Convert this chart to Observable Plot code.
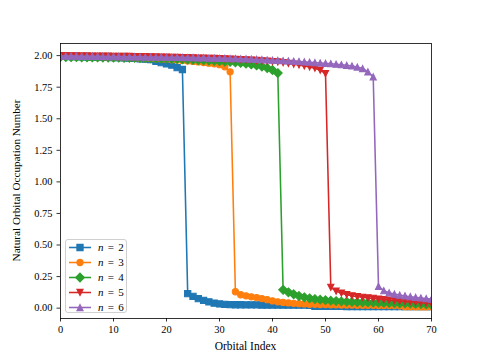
<!DOCTYPE html>
<html><head><meta charset="utf-8">
<script src="https://cdn.jsdelivr.net/npm/d3@7"></script>
<script src="https://cdn.jsdelivr.net/npm/@observablehq/plot@0.6"></script>
<style>
body{margin:0;background:#fff;}
#chart{position:relative;width:480px;height:360px;font-family:"Liberation Serif",serif;}
#legend{position:absolute;left:65px;top:239px;width:62px;height:74px;border:1px solid #d0d0d0;border-radius:3px;background:rgba(255,255,255,0.8);box-sizing:border-box;}
.lrow{position:absolute;left:0;height:15px;width:60px;}
.lrow svg{position:absolute;left:2px;top:0;}
.lrow span{position:absolute;left:32px;top:0;line-height:15px;font-size:11px;white-space:nowrap;word-spacing:1.5px;}
</style>
</head><body>
<div id="chart"></div>
<script>
// ---- data ----
const seriesLabels = ["2", "3", "4", "5", "6"];
const xTicks = [0, 10, 20, 30, 40, 50, 60, 70];
const yTicks = [0, 0.25, 0.5, 0.75, 1.0, 1.25, 1.5, 1.75, 2.0];

const n2 = [1.995,1.994,1.993,1.992,1.991,1.99,1.989,1.988,1.987,1.986,1.985,1.984,1.982,1.98,1.978,1.975,1.972,1.968,1.955,1.945,1.935,1.925,1.905,1.89,
  0.115,0.093,0.076,0.062,0.05,0.04,0.033,0.03,0.028,
  0.027,0.027,0.026,0.026,0.026,0.025,0.025,0.025,0.025,0.024,0.024,0.024,0.024,0.024,0.023,
  0.014,0.014,0.014,0.014,0.014,0.014,0.013,0.013,0.013,0.013,0.013,0.013,0.013,0.013,0.013,0.012,0.012,0.012,0.012,0.012,0.012,0.012,0.012];
const n3 = [1.996,1.995,1.994,1.993,1.992,1.991,1.99,1.989,1.988,1.987,1.986,1.985,1.984,1.983,1.982,1.98,1.979,1.977,1.975,1.973,1.971,1.968,1.965,1.962,1.958,1.954,1.95,1.945,1.94,1.935,1.928,1.912,1.872,
  0.13,0.106,0.098,0.09,0.084,0.076,0.067,0.057,0.05,0.045,0.041,0.038,0.035,0.033,0.031,0.03,0.029,0.028,0.027,0.026,0.025,0.025,0.024,0.023,0.023,0.022,0.022,0.021,0.021,0.02,0.02,0.019,0.012,0.011,0.011,0.01,0.01,0.01];
const n4 = [1.99,1.989,1.988,1.988,1.987,1.987,1.986,1.986,1.985,1.985,1.984,1.984,1.983,1.983,1.982,1.981,1.98,1.979,1.978,1.977,1.976,1.975,1.973,1.971,1.969,1.967,1.965,1.963,1.961,1.959,1.956,1.953,1.95,1.946,1.942,1.936,1.93,1.922,1.913,1.902,1.886,1.862,
  0.145,0.125,0.11,0.096,0.086,0.078,0.072,0.067,0.063,0.059,0.056,0.053,0.051,0.049,0.047,0.046,0.045,0.044,0.043,0.042,0.041,0.04,0.039,0.038,0.036,0.034,0.032,0.03,0.028];
const n5 = [1.999,1.999,1.998,1.998,1.997,1.997,1.996,1.996,1.995,1.995,1.994,1.994,1.993,1.993,1.992,1.992,1.991,1.99,1.989,1.988,1.987,1.986,1.985,1.984,1.983,1.982,1.981,1.98,1.979,1.978,1.977,1.975,1.973,1.971,1.969,1.967,1.965,1.962,1.959,1.956,1.953,1.95,1.944,1.938,1.932,1.926,1.918,1.91,1.9,1.885,1.858,
  0.165,0.135,0.118,0.107,0.098,0.091,0.086,0.081,0.077,0.072,0.068,0.064,0.06,0.056,0.053,0.05,0.047,0.044,0.041,0.038];
const n6 = [1.997,1.997,1.996,1.996,1.995,1.995,1.994,1.994,1.993,1.993,1.992,1.992,1.991,1.991,1.99,1.99,1.989,1.989,1.988,1.988,1.987,1.987,1.986,1.986,1.985,1.984,1.983,1.982,1.981,1.98,1.979,1.978,1.977,1.976,1.975,1.974,1.972,1.97,1.968,1.966,1.964,1.962,1.96,1.958,1.956,1.954,1.951,1.948,1.945,1.942,1.939,1.936,1.932,1.928,1.923,1.918,1.91,1.898,1.872,1.832,
  0.172,0.138,0.122,0.112,0.104,0.097,0.091,0.086,0.081,0.076,0.071];
const seriesValues = [n2, n3, n4, n5, n6];

// ---- styles ----
const colors = ["#1f77b4", "#ff7f0e", "#2ca02c", "#d62728", "#9467bd"];
const R = 3.125;
const S2 = Math.SQRT2;
function sym(kind) {
  return {draw(ctx, size) {
    const r = Math.sqrt(size / Math.PI);
    if (kind === "square") { ctx.rect(-r, -r, 2 * r, 2 * r); }
    else if (kind === "circle") { ctx.moveTo(r, 0); ctx.arc(0, 0, r, 0, 2 * Math.PI); }
    else if (kind === "diamond") { const d = r * S2; ctx.moveTo(0, -d); ctx.lineTo(d, 0); ctx.lineTo(0, d); ctx.lineTo(-d, 0); ctx.closePath(); }
    else if (kind === "tdown") { ctx.moveTo(0, r); ctx.lineTo(-r, -r); ctx.lineTo(r, -r); ctx.closePath(); }
    else { ctx.moveTo(0, -r); ctx.lineTo(-r, r); ctx.lineTo(r, r); ctx.closePath(); }
  }};
}
const kinds = ["square", "circle", "diamond", "tdown", "tup"];

const marks = [];
seriesValues.forEach((vals, k) => {
  const rows = vals.map((v, i) => ({idx: i, v}));
  marks.push(Plot.line(rows, {x: "idx", y: "v", stroke: colors[k], strokeWidth: 1.56, clip: true}));
  marks.push(Plot.dot(rows, {x: "idx", y: "v", symbol: sym(kinds[k]), r: R, fill: colors[k], stroke: colors[k], strokeWidth: 1.04, clip: true}));
});

const plot = Plot.plot({
  width: 480, height: 360,
  marginLeft: 60, marginRight: 49, marginTop: 43, marginBottom: 42,
  style: {fontFamily: "'Liberation Serif', serif", fontSize: "10.4px", background: "white", color: "black"},
  x: {domain: [0, 70]},
  y: {domain: [-0.082, 2.096]},
  marks: [
    ...marks,
    Plot.axisX({ticks: xTicks, tickSize: 3.5, tickPadding: 3.5, strokeWidth: 0.8, label: null}),
    Plot.axisY({ticks: yTicks, tickFormat: d3.format(".2f"), tickSize: 3.5, tickPadding: 4.5, strokeWidth: 0.8, label: null}),
    Plot.frame({stroke: "black", strokeWidth: 0.8})
  ]
});
const chart = document.getElementById("chart");
chart.appendChild(plot);

// axis titles
const svg = d3.select(plot);
svg.append("text").attr("x", 245.5).attr("y", 350).attr("text-anchor", "middle")
  .style("font-size", "11.5px").text("Orbital Index");
svg.append("text").attr("transform", "translate(20,180.5) rotate(-90)").attr("text-anchor", "middle")
  .style("font-size", "11.2px").text("Natural Orbital Occupation Number");

// legend
const legend = d3.select(chart).append("div").attr("id", "legend");
seriesLabels.forEach((lab, k) => {
  const row = legend.append("div").attr("class", "lrow").style("top", (k * 14.9) + "px");
  const s = row.append("svg").attr("width", 24).attr("height", 15);
  s.append("line").attr("x1", 1).attr("x2", 23).attr("y1", 7.5).attr("y2", 7.5)
    .attr("stroke", colors[k]).attr("stroke-width", 1.56);
  s.append("path").attr("transform", "translate(12,7.5)")
    .attr("d", d3.symbol(sym(kinds[k]), R * R * Math.PI)())
    .attr("fill", colors[k]).attr("stroke", colors[k]).attr("stroke-width", 1.04);
  row.append("span").html("<i>n</i> = " + lab);
});
</script>
</body></html>
